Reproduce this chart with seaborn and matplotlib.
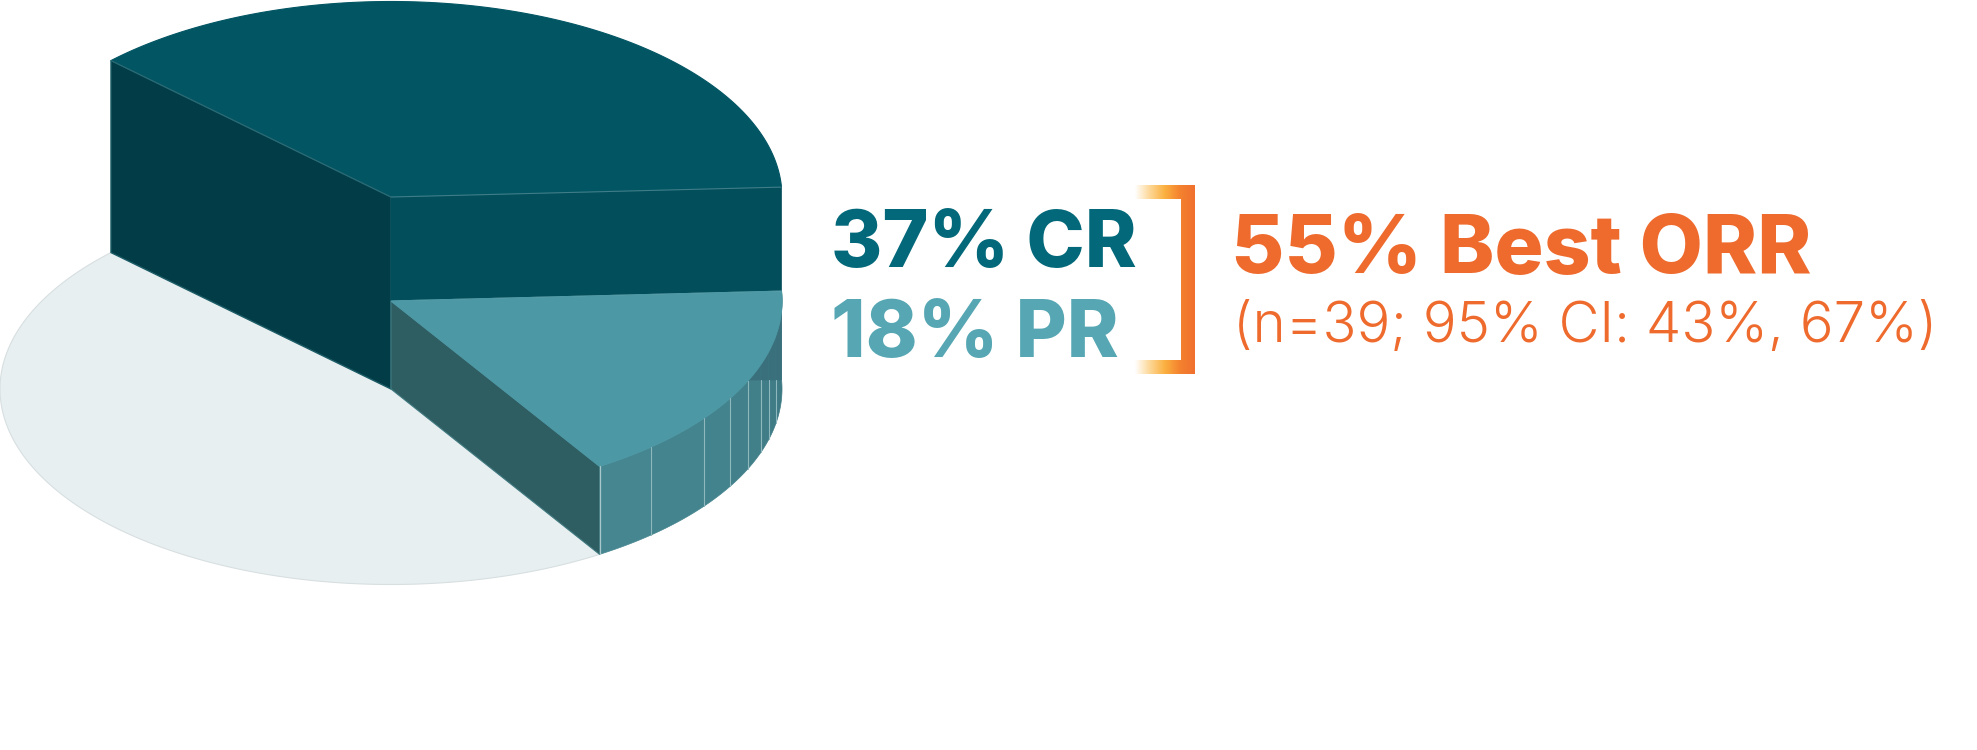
import numpy as np
import seaborn as sns
import matplotlib.pyplot as plt
from matplotlib.patches import Polygon, PathPatch
from matplotlib.path import Path

# slice sizes as drawn in the picture (the PR slice is drawn a bit under its 18% label)
slice_names = ["CR", "PR", "No response"]
slice_shares = [36.9, 16.85, 46.25]
start_angle = 2.9

cr_label = "37% CR"
pr_label = "18% PR"
orr_label = "55% Best ORR"
ci_label = "(n=39; 95% CI: 43%, 67%)"

# where the light lines on the PR wall sit, in degrees below the horizontal
wall_line_angles = [48.3, 36.8, 29.9, 24.0, 18.9, 14.8, 10.0]

# layout, in pixels
CX, RX = 391, 391
RY = 195.5
BASE_Y = 389
CR_RISE = 192
PR_RISE = 88
SHADOW_Y = 380

TEAL_TOP = "#025563"
TEAL_SIDE = "#024e5a"
TEAL_DARK = "#013c47"
PR_TOP = "#4d98a5"
PR_SIDE = "#2e5d62"
LIGHT = "#e7eff1"
ORANGE = "#ee6a2d"

sns.set_theme(style="white")
plt.rcParams["font.family"] = ["Inter", "DejaVu Sans"]


def arc(a0, a1, y0, n=200):
    t = np.radians(np.linspace(a0, a1, n))
    return np.column_stack([CX + RX * np.cos(t), y0 - RY * np.sin(t)])


def wedge(a0, a1, y0, color, edge=None):
    pts = np.vstack([[CX, y0], arc(a0, a1, y0)])
    ax.add_patch(Polygon(pts, closed=True, fc=color, ec=edge or color, lw=0.8))


def point(a, y0):
    t = np.radians(a)
    return [CX + RX * np.cos(t), y0 - RY * np.sin(t)]


fig = plt.figure(figsize=(19.77, 7.5), dpi=100)
ax = fig.add_axes([0, 0, 1, 1])
ax.set_xlim(0, 1977)
ax.set_ylim(750, 0)
sns.despine(ax=ax, left=True, bottom=True)
ax.set_xticks([])
ax.set_yticks([])

sweeps = [s / sum(slice_shares) * 360 for s in slice_shares]
cr_a0 = start_angle
cr_a1 = cr_a0 + sweeps[0]
pr_a1 = cr_a0
pr_a0 = pr_a1 - sweeps[1]

cr_y = BASE_Y - CR_RISE
pr_y = BASE_Y - PR_RISE

# flat slice on the ground
wedge(cr_a1, pr_a0 + 360, BASE_Y, LIGHT, "#d8dfe1")

# dark side of the CR block
corner = point(cr_a1, cr_y)
ax.add_patch(Polygon([corner, [CX, cr_y], [CX, BASE_Y], [corner[0], corner[1] + CR_RISE]],
                     closed=True, fc=TEAL_DARK, ec="#1c5c66", lw=1))

# PR wall, one facet between each pair of lines
marks = [pr_a0] + sorted(-a for a in wall_line_angles) + [pr_a1]
facets = sns.blend_palette(["#458690", "#3e7a84"], len(marks) - 1)
for a0, a1, col in zip(marks[:-1], marks[1:], facets):
    top = arc(a0, a1, pr_y, 40)
    bottom = arc(a1, a0, BASE_Y, 40)
    ax.add_patch(Polygon(np.vstack([top, bottom]), closed=True, fc=col, ec=col, lw=0.5))
    # darker band at the top of the wall on the right
    keep = top[:, 1] < SHADOW_Y
    if keep.any():
        band = top[keep]
        ax.add_patch(Polygon(np.vstack([band, [[band[-1, 0], SHADOW_Y], [band[0, 0], SHADOW_Y]]]),
                             closed=True, fc="#3a707c", ec="#3a707c", lw=0.5))
for a in marks[1:-1]:
    p = point(a, pr_y)
    ax.plot([p[0], p[0]], [max(p[1], SHADOW_Y), p[1] + PR_RISE], color="#8fb8be", lw=0.8)

# PR cut side
end = point(pr_a0, pr_y)
ax.add_patch(Polygon([[CX, pr_y], end, [end[0], end[1] + PR_RISE], [CX, BASE_Y]],
                     closed=True, fc=PR_SIDE, ec="#3f7a80", lw=0.8))
ax.plot([end[0], end[0]], [end[1], end[1] + PR_RISE], color="#a9c8cc", lw=0.9)

# CR cut side and top
right = point(cr_a0, cr_y)
ax.add_patch(Polygon([[CX, cr_y], right, [right[0], right[1] + 103.5], [CX, cr_y + 103.5]],
                     closed=True, fc=TEAL_SIDE, ec=TEAL_SIDE, lw=0.5))
wedge(cr_a0, cr_a1, cr_y, TEAL_TOP)
ax.plot([CX, right[0]], [cr_y, right[1]], color="#3f7d88", lw=0.8)
ax.plot([corner[0], CX], [corner[1], cr_y], color="#2f6b75", lw=0.8)

# PR top
wedge(pr_a0, pr_a1, pr_y, PR_TOP)

# bracket with the fade on its arms
bracket = Path([(1135, 185), (1195, 185), (1195, 374), (1135, 374), (1135, 360),
                (1181, 360), (1181, 199), (1135, 199), (1135, 185)], closed=True)
fade = sns.blend_palette(["#ffffff", "#fdd795", "#fbb040", "#f4822f", "#f0702e"], as_cmap=True)
im = ax.imshow(np.linspace(0, 1, 256).reshape(1, -1), extent=(1135, 1195, 374, 185),
               cmap=fade, aspect="auto", zorder=3)
im.set_clip_path(PathPatch(bracket, transform=ax.transData))
ax.set_xlim(0, 1977)
ax.set_ylim(750, 0)

ax.text(831, 267, cr_label, color="#03697a", fontsize=56.5, fontweight=800, va="baseline")
ax.text(831, 357, pr_label, color="#56a7b3", fontsize=56.5, fontweight=800, va="baseline")
ax.text(1231, 273, orr_label, color=ORANGE, fontsize=59, fontweight=800, va="baseline")
ax.text(1233, 342, ci_label, color=ORANGE, fontsize=40.5, fontweight=300, va="baseline")

fig.savefig("out.png", dpi=100)
